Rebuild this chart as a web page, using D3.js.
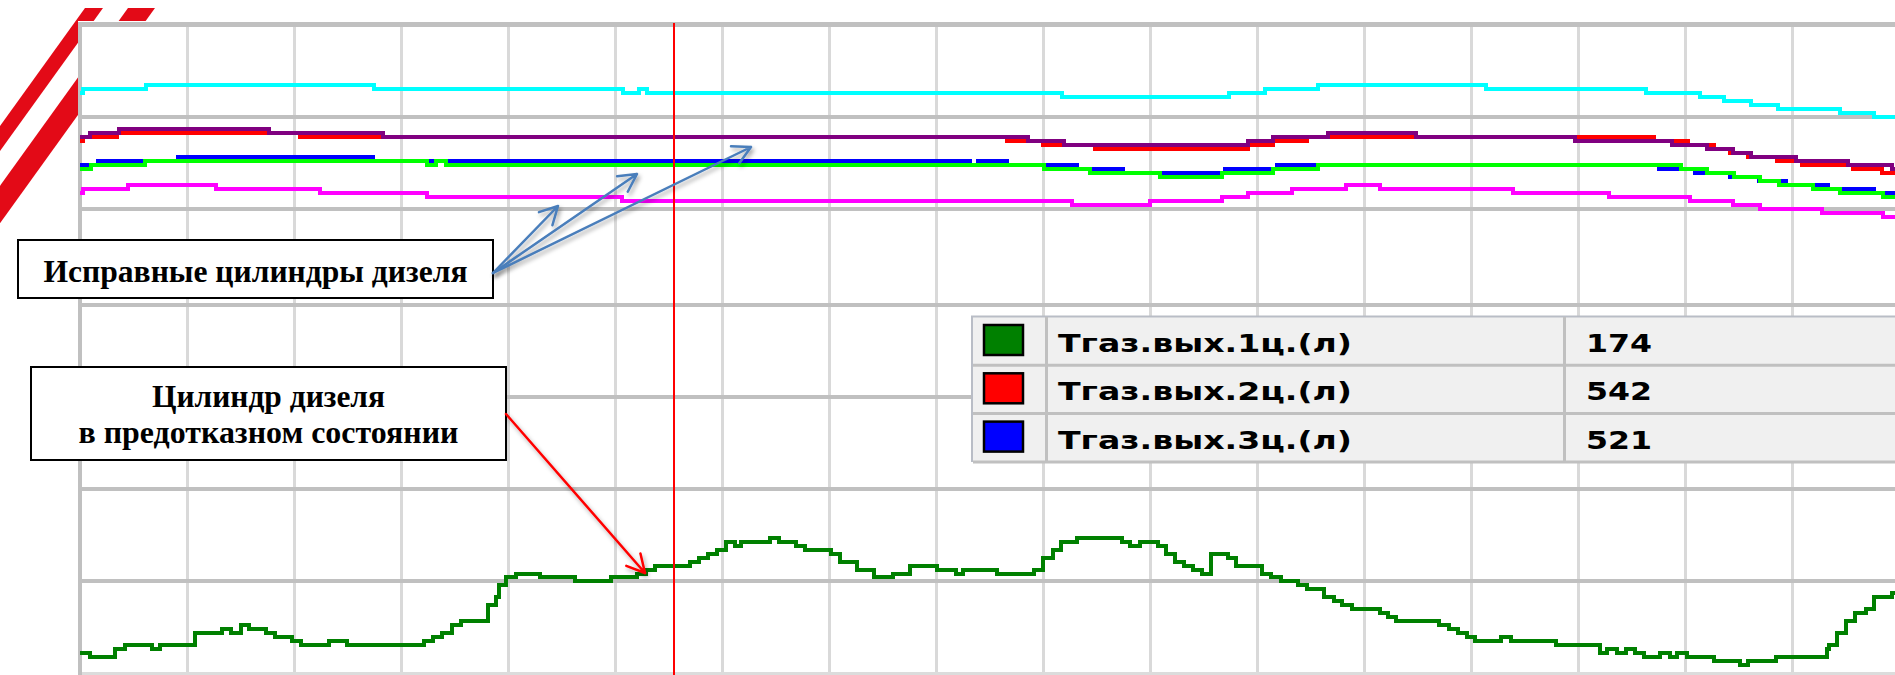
<!DOCTYPE html>
<html><head><meta charset="utf-8">
<script src="https://cdn.jsdelivr.net/npm/d3@7"></script>
<style>html,body{margin:0;padding:0;background:#fff;overflow:hidden}</style>
</head><body><svg id="c" width="1895" height="675"></svg>
<script>
// ---------- data ----------
// time axis (grid every 10 units), temperature axis (grid every 80 units)
const xTicks = d3.range(0, 170, 10);
const yTicks = [640, 560, 480, 400, 320, 240, 160, 80];
const cursorT = 55.5;

// [time, temperature] step points
const seriesCyan = [[0,580.5],[0.28,583.9],[6.17,587.4],[27.48,583.9],[50.75,580.5],[52.24,583.9],[52.99,580.5],[91.78,577.0],[107.38,580.5],[110.75,583.9],[115.70,587.4],[131.40,583.9],[146.36,580.5],[151.40,577.0],[153.64,573.6],[156.17,570.1],[158.69,566.7],[164.49,563.2],[167.66,559.8]];
const seriesRed = [[0,539.0],[0.28,542.5],[3.46,546.0],[20.56,542.5],[86.64,539.0],[90.0,535.6],[94.86,532.1],[109.16,535.6],[111.50,539.0],[114.67,542.5],[147.10,539.0],[150.28,535.6],[152.71,532.1],[154.21,528.7],[155.89,525.2],[158.60,521.8],[160.93,518.3],[165.70,514.9],[168.41,511.4]];
const seriesPurple = [[0,542.5],[0.93,546.0],[3.64,549.4],[17.66,546.0],[28.32,542.5],[88.60,539.0],[91.96,535.6],[109.16,539.0],[111.50,542.5],[116.64,546.0],[124.86,542.5],[139.72,539.0],[148.79,535.6],[152.06,532.1],[154.49,528.7],[156.17,525.2],[160.37,521.8],[165.23,518.3],[169.35,514.9]];
const seriesBlue = [[0,518.3],[1.68,521.8],[9.16,525.2],[27.38,521.8],[83.18,518.3],[83.93,521.8],[86.64,518.3],[93.18,514.9],[97.48,511.4],[107.01,514.9],[111.87,518.3],[147.57,514.9],[150.93,511.4],[154.21,508.0],[156.92,504.5],[159.44,501.1],[163.36,497.6],[167.66,494.2]];
const seriesLime = [[0,514.9],[1.03,518.3],[6.07,521.8],[32.43,518.3],[33.27,521.8],[34.21,518.3],[90.09,514.9],[94.39,511.4],[100.93,508.0],[106.73,511.4],[111.50,514.9],[115.70,518.3],[149.63,514.9],[152.06,511.4],[154.58,508.0],[157.01,504.5],[158.79,501.1],[161.96,497.6],[164.49,494.2],[168.50,490.7]];
const seriesMagenta = [[0,494.2],[0.28,497.6],[4.49,501.1],[12.71,497.6],[22.43,494.2],[32.43,490.7],[50.65,487.3],[92.71,483.8],[100.0,487.3],[106.73,490.7],[109.16,494.2],[113.27,497.6],[118.32,501.1],[121.50,497.6],[133.93,494.2],[142.90,490.7],[150.47,487.3],[154.49,483.8],[157.01,480.4],[162.80,476.9],[168.50,473.5]];
const seriesCyl1 = [[0,97.5],[0.93,94.1],[3.27,101.0],[4.21,104.4],[6.73,101.0],[7.48,104.4],[10.79,114.8],[13.27,118.2],[14.11,114.8],[15.05,121.7],[15.79,118.2],[17.35,114.8],[18.18,111.3],[19.85,107.9],[20.68,104.4],[23.27,107.9],[24.95,104.4],[32.15,107.9],[32.99,111.3],[33.83,114.8],[34.77,121.7],[35.61,125.1],[38.13,138.9],[38.92,145.8],[39.12,156.2],[39.79,163.1],[40.71,166.5],[43.01,163.1],[46.26,159.6],[49.60,163.1],[52.02,166.5],[52.90,170.0],[53.73,173.4],[57.01,176.9],[57.85,180.3],[58.69,183.8],[59.53,187.3],[60.37,194.2],[61.21,190.7],[61.82,194.2],[64.45,197.6],[65.29,194.2],[66.95,190.7],[67.79,187.3],[70.17,183.8],[71.00,176.9],[72.59,170.0],[74.21,163.1],[76.01,166.5],[77.55,173.4],[80.06,170.0],[81.85,166.5],[82.56,170.0],[85.73,166.5],[89.16,170.0],[89.98,180.3],[90.90,187.3],[91.65,194.2],[93.20,197.6],[97.41,194.2],[98.16,190.7],[99.04,194.2],[100.71,190.7],[101.54,183.8],[102.37,176.9],[103.21,173.4],[104.05,170.0],[104.88,166.5],[105.71,183.8],[107.29,180.3],[108.04,173.4],[110.51,166.5],[111.35,163.1],[112.22,159.6],[113.85,156.2],[114.68,152.7],[116.26,145.8],[117.15,142.4],[117.92,138.9],[118.84,135.5],[121.46,132.0],[122.22,128.6],[122.99,125.1],[127.03,121.7],[127.99,118.2],[128.77,114.8],[129.61,111.3],[130.42,107.9],[132.80,111.3],[133.76,107.9],[137.99,104.4],[142.03,97.5],[142.71,101.0],[143.68,97.5],[144.52,101.0],[145.37,97.5],[146.18,94.1],[147.68,97.5],[148.56,94.1],[149.25,97.5],[150.21,94.1],[152.71,90.6],[155.10,87.2],[155.87,90.6],[158.49,94.1],[163.29,101.0],[163.48,104.4],[164.21,114.8],[165.09,125.1],[165.86,132.0],[166.90,135.5],[167.66,145.8],[169.33,149.3]];

const legendNames = ["Тгаз.вых.1ц.(л)", "Тгаз.вых.2ц.(л)", "Тгаз.вых.3ц.(л)"];
const legendValues = [174, 542, 521];
const legendColors = ["#008000", "#ff0000", "#0000ff"];

const note1 = ["Исправные цилиндры дизеля"];
const note2 = ["Цилиндр дизеля", "в предотказном состоянии"];

// ---------- layout ----------
const W = 1895, H = 675;
const svg = d3.select("#c");
const x = d3.scaleLinear().domain([0, 170]).range([80, 1899]);
const y = d3.scaleLinear().domain(yTicks).range([24, 117, 209, 305, 397, 489, 581, 673]);

const defs = svg.append("defs");
defs.append("clipPath").attr("id", "plot").append("rect")
  .attr("x", 80).attr("y", 20).attr("width", W - 80).attr("height", H - 20);
const sh = defs.append("filter").attr("id", "shadow").attr("x", "-20%").attr("y", "-20%").attr("width", "140%").attr("height", "140%");
sh.append("feDropShadow").attr("dx", 2).attr("dy", 3).attr("stdDeviation", 2)
  .attr("flood-color", "#000").attr("flood-opacity", 0.35);

svg.append("rect").attr("width", W).attr("height", H).attr("fill", "#fff");

// decorative red stripes (top-left)
const stripeColor = "#e30a17";
[[85, 103], [128, 155]].forEach(([a, b]) => {
  const k = 0.72, yt = 8, yb = 330;
  svg.append("polygon")
    .attr("points", [[a, yt], [b, yt], [b - k * (yb - yt), yb], [a - k * (yb - yt), yb]].map(p => p.join(",")).join(" "))
    .attr("fill", stripeColor);
});

// plot background
svg.append("rect").attr("x", 78).attr("y", 21).attr("width", W - 78).attr("height", H - 21).attr("fill", "#fff");

// vertical grid
svg.append("g").selectAll("line").data(xTicks.filter(d => d > 0)).join("line")
  .attr("x1", d => x(d)).attr("x2", d => x(d)).attr("y1", 26).attr("y2", H)
  .attr("stroke", "#d9d9d9").attr("stroke-width", 3).attr("shape-rendering", "crispEdges");
// horizontal grid
svg.append("g").selectAll("line").data(yTicks).join("line")
  .attr("x1", 78).attr("x2", W).attr("y1", d => y(d)).attr("y2", d => y(d))
  .attr("stroke", d => d === 80 ? "#dcdcdc" : "#c0c0c0")
  .attr("stroke-width", d => d === 640 ? 5 : (d === 80 ? 3 : 4)).attr("shape-rendering", "crispEdges");
// left border
svg.append("line").attr("x1", x(0)).attr("x2", x(0)).attr("y1", 22).attr("y2", H)
  .attr("stroke", "#c0c0c0").attr("stroke-width", 4).attr("shape-rendering", "crispEdges");

// series
const line = d3.line().x(d => x(d[0])).y(d => y(d[1])).curve(d3.curveStepAfter);
const ext = s => s.concat([[x.domain()[1], s[s.length - 1][1]]]);
const gS = svg.append("g").attr("clip-path", "url(#plot)");
[[seriesCyan, "#00ffff"], [seriesRed, "#ff0000"], [seriesPurple, "#800080"],
 [seriesBlue, "#0000ff"], [seriesLime, "#00ff00"], [seriesMagenta, "#ff00ff"],
 [seriesCyl1, "#008000"]].forEach(([s, c]) => {
  gS.append("path").attr("d", line(ext(s))).attr("fill", "none").attr("stroke", c)
    .attr("stroke-width", 4).attr("stroke-linejoin", "miter").attr("shape-rendering", "crispEdges");
});

// cursor
svg.append("line").attr("x1", x(cursorT)).attr("x2", x(cursorT)).attr("y1", 23).attr("y2", H)
  .attr("stroke", "#ff0000").attr("stroke-width", 2).attr("shape-rendering", "crispEdges");

// legend table
const tX = 971, tY = 317, rowH = 48.3, c1 = 1046.5, c2 = 1564.5;
const tg = svg.append("g");
tg.append("rect").attr("x", tX).attr("y", tY - 1).attr("width", W - tX).attr("height", rowH * 3 + 1).attr("fill", "#f0f0f0");
tg.append("line").attr("x1", tX).attr("x2", W).attr("y1", tY - 0.5).attr("y2", tY - 0.5).attr("stroke", "#b9bdc6").attr("stroke-width", 2);
tg.append("line").attr("x1", tX + 1).attr("x2", tX + 1).attr("y1", tY - 1).attr("y2", tY + rowH * 3).attr("stroke", "#b9bdc6").attr("stroke-width", 2);
tg.selectAll(".rs").data(d3.range(1, 4)).join("line").attr("class", "rs")
  .attr("x1", tX + 2).attr("x2", W).attr("y1", i => tY + i * rowH).attr("y2", i => tY + i * rowH)
  .attr("stroke", "#c0c0c0").attr("stroke-width", 3);
[c1, c2].forEach(cx => tg.append("line").attr("x1", cx).attr("x2", cx).attr("y1", tY).attr("y2", tY + rowH * 3)
  .attr("stroke", "#c0c0c0").attr("stroke-width", 3));
const rows = tg.selectAll(".row").data(legendNames.map((n, i) => ({ n, v: legendValues[i], c: legendColors[i], i })))
  .join("g").attr("transform", d => `translate(0,${tY + d.i * rowH})`);
rows.append("rect").attr("x", 984).attr("y", 8).attr("width", 39).attr("height", 30)
  .attr("fill", d => d.c).attr("stroke", "#000").attr("stroke-width", 2.5);
rows.append("text").attr("x", 1058).attr("y", 35).text(d => d.n)
  .attr("font-family", "DejaVu Sans").attr("font-weight", "bold").attr("font-size", 25)
  .attr("textLength", 294).attr("lengthAdjust", "spacingAndGlyphs").attr("fill", "#000");
rows.append("text").attr("x", 1586).attr("y", 35).text(d => d.v)
  .attr("font-family", "DejaVu Sans").attr("font-weight", "bold").attr("font-size", 25)
  .attr("textLength", 66).attr("lengthAdjust", "spacingAndGlyphs").attr("fill", "#000");

// annotation boxes
function box(x0, y0, x1, y1, lines, baselines, widths) {
  const g = svg.append("g");
  g.append("rect").attr("x", x0).attr("y", y0).attr("width", x1 - x0).attr("height", y1 - y0)
    .attr("fill", "#fff").attr("stroke", "#000").attr("stroke-width", 2);
  lines.forEach((t, i) => g.append("text").attr("x", (x0 + x1) / 2).attr("y", baselines[i])
    .attr("text-anchor", "middle").attr("font-family", "Liberation Serif").attr("font-weight", "bold")
    .attr("font-size", 31).attr("textLength", widths[i]).attr("lengthAdjust", "spacingAndGlyphs").text(t));
}
box(18, 240, 493, 298, note1, [282], [424]);
box(31, 367, 506, 460, note2, [407, 443], [233, 380]);

// arrows
function arrow(x0, y0, x1, y1, color, w) {
  const g = svg.append("g").attr("filter", "url(#shadow)").attr("stroke", color).attr("stroke-width", w)
    .attr("fill", "none").attr("stroke-linecap", "round").attr("stroke-linejoin", "round");
  const a = Math.atan2(y1 - y0, x1 - x0), L = 20, h = 28 * Math.PI / 180;
  const p1 = [x1 - L * Math.cos(a - h), y1 - L * Math.sin(a - h)];
  const p2 = [x1 - L * Math.cos(a + h), y1 - L * Math.sin(a + h)];
  g.append("path").attr("d", `M${x0},${y0}L${x1},${y1}M${p1}L${x1},${y1}L${p2}`);
}
arrow(493, 273, 558, 206, "#4a7ebb", 2.5);
arrow(493, 273, 637, 174, "#4a7ebb", 2.5);
arrow(493, 273, 751, 147, "#4a7ebb", 2.5);
arrow(506, 414, 645, 573, "#ff0000", 2.5);
</script></body></html>
